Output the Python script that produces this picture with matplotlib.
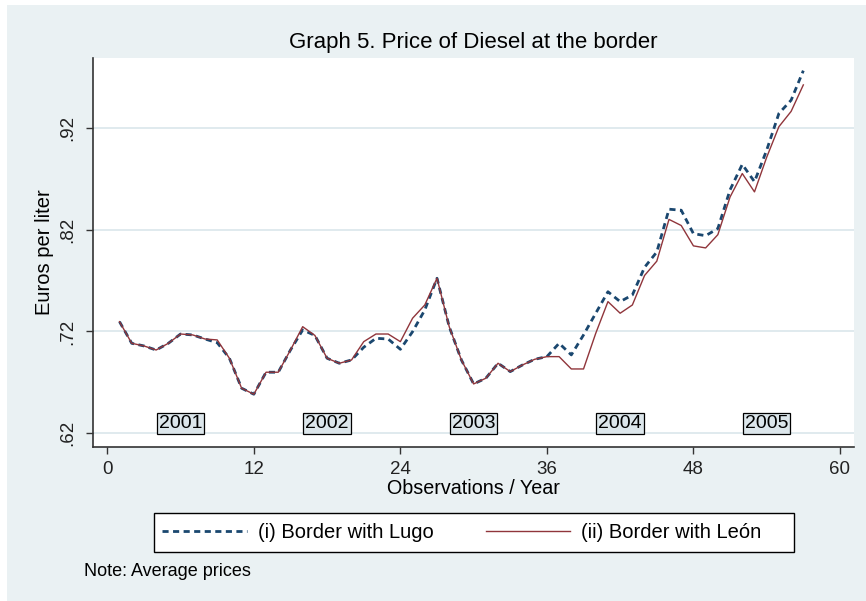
import matplotlib
matplotlib.use('Agg')
import matplotlib.pyplot as plt
from matplotlib.patches import Rectangle

plt.rcParams['font.family'] = ['Liberation Sans', 'DejaVu Sans']

# monthly observations, Jan 2001 .. Sep 2005
obs = list(range(1, 58))

lugo = [.7296, .7084, .7058, .7018, .7084, .7175, .7166, .7126, .7090, .6937,
        .6643, .6584, .6800, .6800, .7018, .7215, .7161, .6937, .6888, .6920,
        .7045, .7133, .7126, .7025, .7198, .7411, .7722, .7247, .6920, .6685,
        .6741, .6888, .6806, .6871, .6927, .6953, .7084, .6970, .7166, .7379,
        .7590, .7493, .7558, .7830, .7980, .8400, .8390, .8160, .8140, .8210,
        .8590, .8840, .8670, .8980, .9340, .9470, .9760]

leon = [.7296, .7084, .7058, .7018, .7084, .7175, .7166, .7126, .7117, .6937,
        .6643, .6584, .6800, .6800, .7018, .7247, .7161, .6937, .6888, .6920,
        .7100, .7175, .7175, .7100, .7330, .7460, .7722, .7247, .6920, .6685,
        .6741, .6888, .6806, .6871, .6927, .6953, .6953, .6832, .6832, .7182,
        .7493, .7379, .7460, .7750, .7890, .8300, .8240, .8040, .8020, .8150,
        .8520, .8750, .8570, .8910, .9210, .9360, .9620]

years = ['2001', '2002', '2003', '2004', '2005']
year_pos = [6, 18, 30, 42, 54]

xticks = [0, 12, 24, 36, 48, 60]
yticks = [.62, .72, .82, .92]
ytick_labels = ['.62', '.72', '.82', '.92']

bg = '#EAF1F3'
navy = '#1A476F'
maroon = '#90353B'

fig = plt.figure(figsize=(8.66, 6.01), dpi=100)
fig.patch.set_facecolor('white')
fig.patches.append(Rectangle((7/866, 0), 1, 1 - 5/601, transform=fig.transFigure,
                             facecolor=bg, edgecolor='none', zorder=-10))

ax = fig.add_axes([93.3/866, 1 - 446.7/601, (854 - 93.3)/866, (446.7 - 57.7)/601])
ax.set_facecolor('white')

ax.plot(obs, lugo, color=navy, lw=2, linestyle=(0, (2.2, 1.6)), label='(i) Border with Lugo', zorder=3)
ax.plot(obs, leon, color=maroon, lw=1, label='(ii) Border with León', zorder=4)

for y, p in zip(years, year_pos):
    ax.text(p, .6301, y, ha='center', va='center', fontsize=14,
            bbox=dict(boxstyle='square,pad=0.1', facecolor='#DCE6EB', edgecolor='black', lw=0.9))

ax.set_xlim(-1.147, 61.15)
ax.set_ylim(.6069, .9887)
ax.set_xticks(xticks)
ax.set_yticks(yticks)
ax.set_yticklabels(ytick_labels, rotation=90, va='center')
ax.grid(axis='y', color='#E0EAEE', lw=1.4)
ax.set_axisbelow(True)

for s in ['top', 'right']:
    ax.spines[s].set_visible(False)
for s in ['left', 'bottom']:
    ax.spines[s].set_color('#333333')
    ax.spines[s].set_linewidth(1.2)

ax.tick_params(axis='both', direction='out', length=5, width=1, color='#333333',
               labelsize=13.5, labelcolor='#222222')
ax.tick_params(axis='x', pad=5)
ax.tick_params(axis='y', pad=7)

fig.text(.547, 1 - 42.7/601, 'Graph 5. Price of Diesel at the border',
         ha='center', va='center', fontsize=16)
fig.text(.547, 1 - 489/601, 'Observations / Year', ha='center', va='center', fontsize=14.2)
fig.text(44/866, 1 - 252/601, 'Euros per liter', rotation=90, ha='center', va='center', fontsize=14.5)
fig.text(84/866, 1 - 572/601, 'Note: Average prices', ha='left', va='center', fontsize=13)

# legend box drawn by hand, entries placed inside it
fig.patches.append(Rectangle((153.6/866, 1 - 552/601), (794 - 153.6)/866, 39/601,
                             transform=fig.transFigure, facecolor='white',
                             edgecolor='black', lw=1, zorder=1))
h, l = ax.get_legend_handles_labels()
leg = fig.legend(h, l, loc='center left', bbox_to_anchor=(153.6/866, 1 - 532.5/601),
                 ncol=2, fontsize=14.5, handlelength=4.2, handletextpad=0.55,
                 columnspacing=2.6, borderpad=0.42, borderaxespad=0, frameon=False)
leg.set_zorder(5)

fig.savefig('out.png', dpi=100)
